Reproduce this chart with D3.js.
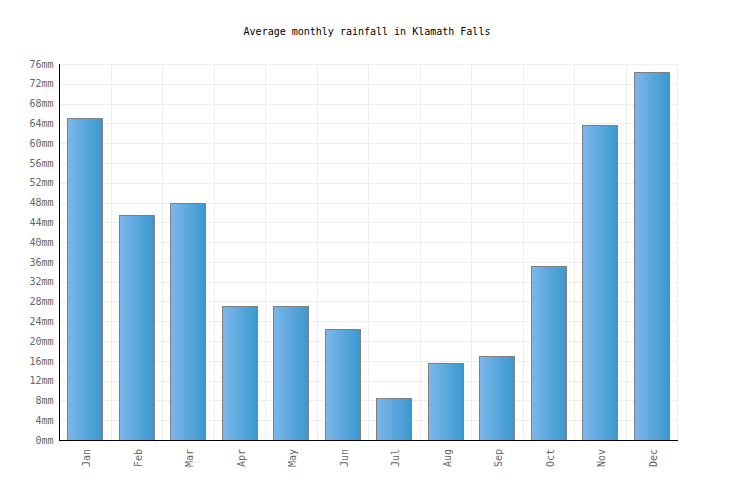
<!DOCTYPE html>
<html>
<head>
<meta charset="utf-8">
<script src="https://cdn.jsdelivr.net/npm/d3@7"></script>
<style>
  html, body { margin: 0; padding: 0; background: #fff; }
  svg { display: block; }
  text { font-family: "DejaVu Sans Mono", monospace; }
</style>
</head>
<body>
<svg id="chart" width="736" height="500"></svg>
<script>
const months = ["Jan","Feb","Mar","Apr","May","Jun","Jul","Aug","Sep","Oct","Nov","Dec"];
const rainfall = [65.0, 45.4, 47.9, 27.1, 27.1, 22.4, 8.4, 15.5, 16.9, 35.2, 63.7, 74.3];
const yTicks = [0,4,8,12,16,20,24,28,32,36,40,44,48,52,56,60,64,68,72,76];
const title = "Average monthly rainfall in Klamath Falls";

const svg = d3.select("#chart");
const pLeft = 59, pRight = 677, pTop = 64, pBottom = 440;

const x = d3.scaleBand().domain(months).range([pLeft, pRight]).paddingInner(0.33).paddingOuter(0.165);
const y = d3.scaleLinear().domain([0, 76]).range([pBottom, pTop]);
const step = x.step();

const defs = svg.append("defs");
const grad = defs.append("linearGradient").attr("id", "barGrad")
  .attr("x1", "0%").attr("x2", "100%").attr("y1", "0%").attr("y2", "0%");
grad.append("stop").attr("offset", "0%").attr("stop-color", "#7db7ea");
grad.append("stop").attr("offset", "100%").attr("stop-color", "#3a98cf");

// horizontal grid
svg.append("g").selectAll("line").data(yTicks).join("line")
  .attr("x1", pLeft).attr("x2", pRight)
  .attr("y1", d => Math.round(y(d)) + 0.5).attr("y2", d => Math.round(y(d)) + 0.5)
  .attr("stroke", "#eeeeee").attr("stroke-width", 1);

// vertical grid at band boundaries
svg.append("g").selectAll("line").data(months).join("line")
  .attr("x1", d => Math.round(x(d) - step * 0.165 + step) + 0.5)
  .attr("x2", d => Math.round(x(d) - step * 0.165 + step) + 0.5)
  .attr("y1", pTop).attr("y2", pBottom)
  .attr("stroke", "#eeeeee").attr("stroke-width", 1);

// bars
svg.append("g").selectAll("rect").data(months).join("rect")
  .attr("x", d => Math.round(x(d)) + 0.5)
  .attr("y", (d, i) => Math.round(y(rainfall[i])) + 0.5)
  .attr("width", Math.round(x.bandwidth()))
  .attr("height", (d, i) => pBottom - Math.round(y(rainfall[i])))
  .attr("fill", "url(#barGrad)")
  .attr("stroke", "#808080").attr("stroke-width", 1);

// y axis
const yAxis = d3.axisLeft(y).tickValues(yTicks).tickFormat(d => d + "mm").tickSize(0).tickPadding(6);
const gy = svg.append("g").attr("transform", `translate(${pLeft + 0.5},0)`).call(yAxis);
gy.select(".domain").remove();
gy.selectAll(".tick line").remove();
gy.selectAll(".tick text").attr("fill", "#666").style("font-size", "10px")
  .style("font-family", "'DejaVu Sans Mono', monospace");
svg.append("line").attr("x1", pLeft + 0.5).attr("x2", pLeft + 0.5).attr("y1", pTop).attr("y2", pBottom + 1)
  .attr("stroke", "#000");

// x axis
const xAxis = d3.axisBottom(x).tickSize(0).tickPadding(0);
const gx = svg.append("g").attr("transform", `translate(0,${pBottom})`).call(xAxis);
gx.select(".domain").remove();
gx.selectAll(".tick text")
  .attr("fill", "#666").style("font-size", "10px")
  .style("font-family", "'DejaVu Sans Mono', monospace")
  .attr("text-anchor", "end").attr("dy", "0.35em")
  .attr("transform", "translate(2,9) rotate(-90)")
  .attr("x", 0).attr("y", 0);
svg.append("line").attr("x1", pLeft).attr("x2", pRight + 1).attr("y1", pBottom + 0.5).attr("y2", pBottom + 0.5)
  .attr("stroke", "#000");

// title
svg.append("text").attr("x", 367).attr("y", 35).attr("text-anchor", "middle")
  .attr("fill", "#000").style("font-size", "10px").text(title);
</script>
</body>
</html>
